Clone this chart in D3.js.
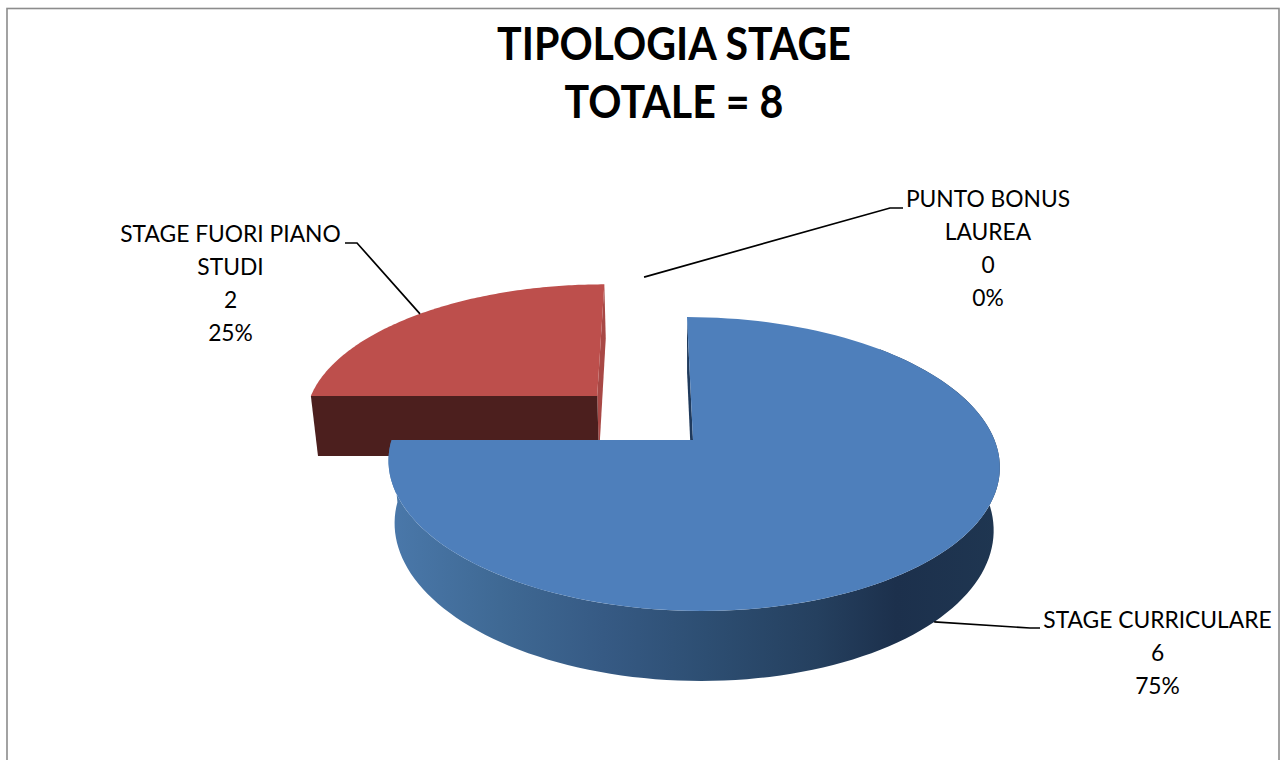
<!DOCTYPE html>
<html>
<head>
<meta charset="utf-8">
<script src="https://cdn.jsdelivr.net/npm/d3@7"></script>
<style>
  body { margin: 0; background: #fff; }
  text { font-family: Lato, "Open Sans", sans-serif; fill: #000; }
</style>
</head>
<body>
<div id="chart"></div>
<script>
const titleLines = ['TIPOLOGIA STAGE', 'TOTALE = 8'];
const categories = ['STAGE CURRICULARE', 'STAGE FUORI PIANO STUDI', 'PUNTO BONUS LAUREA'];
const values = [6, 2, 0];
const labelLines = [['STAGE CURRICULARE'], ['STAGE FUORI PIANO', 'STUDI'], ['PUNTO BONUS', 'LAUREA']];

function draw() {
  const width = 1280, height = 760;
  const svg = d3.select('#chart').append('svg')
    .attr('width', width).attr('height', height)
    .style('display', 'block');

  // frame of the pasted chart, runs off the bottom
  svg.append('rect').attr('x', 7).attr('y', 8.5).attr('width', 1272).attr('height', 800)
    .attr('fill', 'none').attr('stroke', '#8c8c8c').attr('stroke-width', 1.6);

  // Perspective of the disc: u,v are disc coords (radius 1), level 0 = top, 1 = bottom
  const cx = 693, cy = 440, rx = 301.5, ry = 143, lean = 7, tilt = -0.1634, drop = 63.4, shrink = 0.02;
  function project(u, v, level) {
    const w = 1 + tilt * v + shrink * level;
    return [cx + (rx * u + lean * v) / w, cy + (ry * v + drop * level) / w];
  }

  // explosion of each slice in disc coords
  const offsets = [[0, 0], [-0.327, -0.324], [-0.167, -0.40]];

  const pie = d3.pie().sort(null).value(d => d);
  const slices = pie(values);

  const rim = (i, a, level) => project(offsets[i][0] + Math.sin(a), offsets[i][1] - Math.cos(a), level);
  const apex = (i, level) => project(offsets[i][0], offsets[i][1], level);
  const arcPts = (i, a0, a1, level) => d3.range(0, 121).map(k => rim(i, a0 + (a1 - a0) * k / 120, level));
  const line = d3.line();

  const defs = svg.append('defs');
  const wallGrad = defs.append('linearGradient').attr('id', 'blueWall')
    .attr('gradientUnits', 'userSpaceOnUse')
    .attr('x1', 390).attr('x2', 1000).attr('y1', 0).attr('y2', 0);
  [[0, '#4a78aa'], [0.18, '#3f6994'], [0.35, '#365a84'], [0.52, '#2d4e72'], [0.7, '#25405f'], [0.83, '#1c304c'], [1, '#1f3651']]
    .forEach(s => wallGrad.append('stop').attr('offset', s[0]).attr('stop-color', s[1]));

  // red slice first, it sits behind
  const red = slices[1];
  svg.append('path').attr('fill', '#a84845')
    .attr('d', line([apex(1, 0), rim(1, 0, 0), rim(1, 0, 1), apex(1, 1)]) + 'Z');
  svg.append('path').attr('fill', '#4c1f1e')
    .attr('d', line([apex(1, 0), rim(1, red.startAngle, 0), rim(1, red.startAngle, 1), apex(1, 1)]) + 'Z');
  svg.append('path').attr('fill', '#bd4f4c')
    .attr('d', line([apex(1, 0)].concat(arcPts(1, red.startAngle, red.endAngle, 0))) + 'Z');

  // blue slice
  const blue = slices[0];
  svg.append('path').attr('fill', '#1f3a5c')
    .attr('d', line([apex(0, 0), rim(0, 0, 0), rim(0, 0, 1), apex(0, 1)]) + 'Z');
  // wall starts well behind the top face so the right silhouette stays whole
  svg.append('path').attr('fill', 'url(#blueWall)').attr('fill-rule', 'nonzero')
    .attr('d', line(arcPts(0, Math.PI * 0.25, blue.endAngle, 0)
      .concat(arcPts(0, Math.PI * 0.25, blue.endAngle, 1).reverse())) + 'Z');
  svg.append('path').attr('fill', '#4e7fbb')
    .attr('d', line([apex(0, 0)].concat(arcPts(0, blue.startAngle, blue.endAngle, 0))) + 'Z');

  // title, Lato bold runs wider than the original so squeeze it a bit
  svg.selectAll('.title').data(titleLines).join('text')
    .attr('class', 'title')
    .attr('x', 674).attr('y', (d, i) => 60 + i * 58)
    .attr('text-anchor', 'middle')
    .attr('font-size', 45).attr('font-weight', 700)
    .text(d => d)
    .attr('lengthAdjust', 'spacingAndGlyphs')
    .attr('textLength', function () { return this.getComputedTextLength() * 0.914; });

  // leader lines start on the slice, then run to the label
  const total = d3.sum(values);
  const pct = d3.format('.0%');
  const mid = d => (d.startAngle + d.endAngle) / 2;
  const labels = [
    { x: 1157.5, y: 628, level: 1, elbow: [[1030, 628], [1040, 628]] },
    { x: 230.5, y: 242, level: 0, elbow: [[357, 243], [345, 243]] },
    { x: 988, y: 207, level: 0, elbow: [[890, 208], [903, 208]] }
  ];
  slices.forEach((s, i) => {
    const l = labels[i];
    const start = rim(i, i === 2 ? 0 : mid(s), l.level);
    svg.append('path').attr('fill', 'none').attr('stroke', '#000').attr('stroke-width', 1.7)
      .attr('d', line([start].concat(l.elbow)));
    const rows = labelLines[i].concat([String(values[i]), pct(values[i] / total)]);
    svg.selectAll('.label' + i).data(rows).join('text')
      .attr('class', 'label' + i)
      .attr('x', l.x).attr('y', (d, k) => l.y + k * 33)
      .attr('text-anchor', 'middle')
      .attr('font-size', 22.8)
      .text(d => d);
  });
}
draw();
</script>
</body>
</html>
